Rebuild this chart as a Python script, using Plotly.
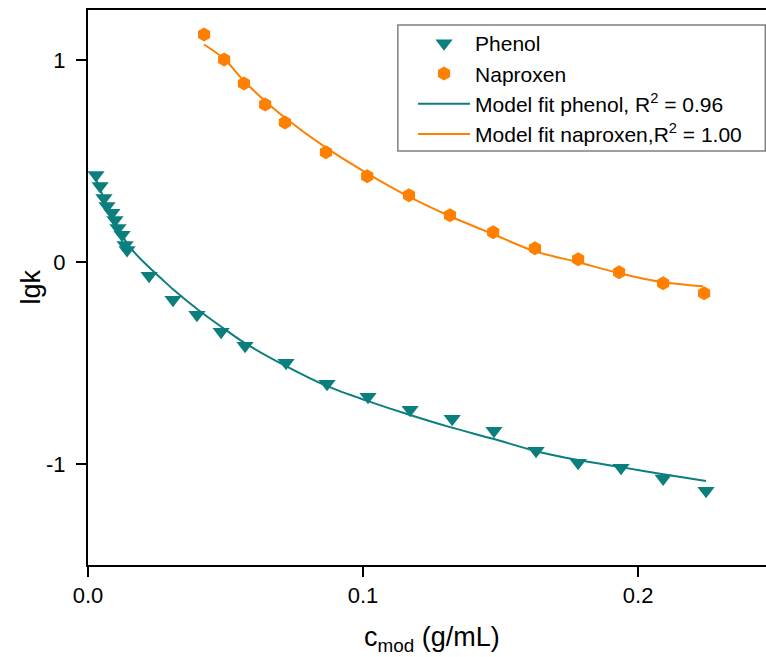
import plotly.graph_objects as go

# Phenol measured points
phenol_x = [0.0029, 0.0044, 0.0058, 0.0069, 0.0087, 0.0098, 0.0109, 0.0124, 0.0135, 0.0142,
            0.0222, 0.0309, 0.0396, 0.0484, 0.0571, 0.0720, 0.0869, 0.1018, 0.1171, 0.1324,
            0.1476, 0.1629, 0.1782, 0.1938, 0.2091, 0.2247]
phenol_y = [0.433, 0.378, 0.319, 0.279, 0.245, 0.210, 0.170, 0.136, 0.086, 0.061,
            -0.067, -0.186, -0.260, -0.344, -0.414, -0.498, -0.602, -0.666, -0.731, -0.775,
            -0.835, -0.934, -0.993, -1.018, -1.072, -1.132]

# Naproxen measured points
naproxen_x = [0.0422, 0.0495, 0.0567, 0.0644, 0.0716, 0.0865, 0.1015, 0.1167, 0.1316, 0.1473,
              0.1625, 0.1782, 0.1931, 0.2091, 0.2240]
naproxen_y = [1.129, 1.005, 0.886, 0.782, 0.693, 0.545, 0.426, 0.332, 0.233, 0.149,
              0.069, 0.015, -0.050, -0.104, -0.153]

# Model fit curves
fit_phenol_x = [0.0029, 0.0058, 0.0087, 0.0116, 0.0145, 0.0171, 0.0222, 0.0269, 0.0309, 0.0407,
                0.0487, 0.0571, 0.0720, 0.0869, 0.1018, 0.1171, 0.1316, 0.1476, 0.1629, 0.1782,
                0.1938, 0.2091, 0.2247]
fit_phenol_y = [0.411, 0.317, 0.228, 0.153, 0.089, 0.045, -0.025, -0.084, -0.134, -0.243,
                -0.322, -0.401, -0.515, -0.614, -0.688, -0.757, -0.817, -0.876, -0.936, -0.980,
                -1.015, -1.050, -1.084]

fit_naproxen_x = [0.0422, 0.0495, 0.0567, 0.0644, 0.0716, 0.0865, 0.1015, 0.1167, 0.1316, 0.1473,
                  0.1625, 0.1782, 0.1931, 0.2091, 0.2236]
fit_naproxen_y = [1.079, 1.008, 0.898, 0.799, 0.716, 0.568, 0.441, 0.325, 0.228, 0.139,
                  0.054, 0.000, -0.054, -0.099, -0.119]

x_ticks = [0.0, 0.1, 0.2]
x_ticklabels = ["0.0", "0.1", "0.2"]
y_ticks = [-1, 0, 1]
y_ticklabels = ["-1", "0", "1"]

TEAL = "#0b7f7d"
ORANGE = "#ff8000"
FONT = "Arial, Liberation Sans, sans-serif"

fig = go.Figure()
fig.add_trace(go.Scatter(x=phenol_x, y=phenol_y, mode="markers", name="Phenol",
                         marker=dict(symbol="triangle-down", size=15, color=TEAL)))
fig.add_trace(go.Scatter(x=naproxen_x, y=naproxen_y, mode="markers", name="Naproxen",
                         marker=dict(symbol="hexagon", size=14, color=ORANGE)))
fig.add_trace(go.Scatter(x=fit_phenol_x, y=fit_phenol_y, mode="lines",
                         name="Model fit phenol, R<sup>2</sup> = 0.96",
                         line=dict(color=TEAL, width=2, shape="spline", smoothing=0.8)))
fig.add_trace(go.Scatter(x=fit_naproxen_x, y=fit_naproxen_y, mode="lines",
                         name="Model fit naproxen,R<sup>2</sup> = 1.00",
                         line=dict(color=ORANGE, width=2, shape="spline", smoothing=0.8)))

fig.update_layout(
    width=766, height=657,
    margin=dict(l=88, r=0, t=10, b=92),
    paper_bgcolor="white", plot_bgcolor="white",
    font=dict(family=FONT, size=22, color="black"),
    showlegend=True,
    legend=dict(x=0.4794, y=0.9765, xanchor="left", yanchor="top",
                bgcolor="rgba(0,0,0,0)", borderwidth=0,
                font=dict(family=FONT, size=21, color="black"),
                itemwidth=52),
    shapes=[dict(type="rect", xref="paper", yref="paper",
                 x0=0.457, x1=0.999, y0=0.746, y1=0.973,
                 line=dict(color="#808080", width=1.5), fillcolor="white", layer="below")],
    xaxis=dict(range=[0, 0.2465], tickmode="array", tickvals=x_ticks, ticktext=x_ticklabels,
               showline=True, linecolor="black", linewidth=2, mirror=True,
               ticks="outside", ticklen=10, tickwidth=1.5, tickcolor="black",
               showgrid=False, zeroline=False, tickfont=dict(size=22)),
    yaxis=dict(range=[-1.5, 1.25], tickmode="array", tickvals=y_ticks, ticktext=y_ticklabels,
               showline=True, linecolor="black", linewidth=2, mirror=False,
               ticks="outside", ticklen=10, tickwidth=1.5, tickcolor="black",
               showgrid=False, zeroline=False, tickfont=dict(size=22),
               ticklabelstandoff=6),
    annotations=[
        dict(text="lgk", x=-0.0855, y=0.5, xref="paper", yref="paper",
             textangle=-90, showarrow=False, xanchor="center", yanchor="middle",
             font=dict(size=27)),
        dict(text="c<sub>mod</sub> (g/mL)", x=0.507, y=-0.134, xref="paper", yref="paper",
             showarrow=False, xanchor="center", yanchor="middle",
             font=dict(size=27)),
    ],
)

fig.write_html("out.html")
